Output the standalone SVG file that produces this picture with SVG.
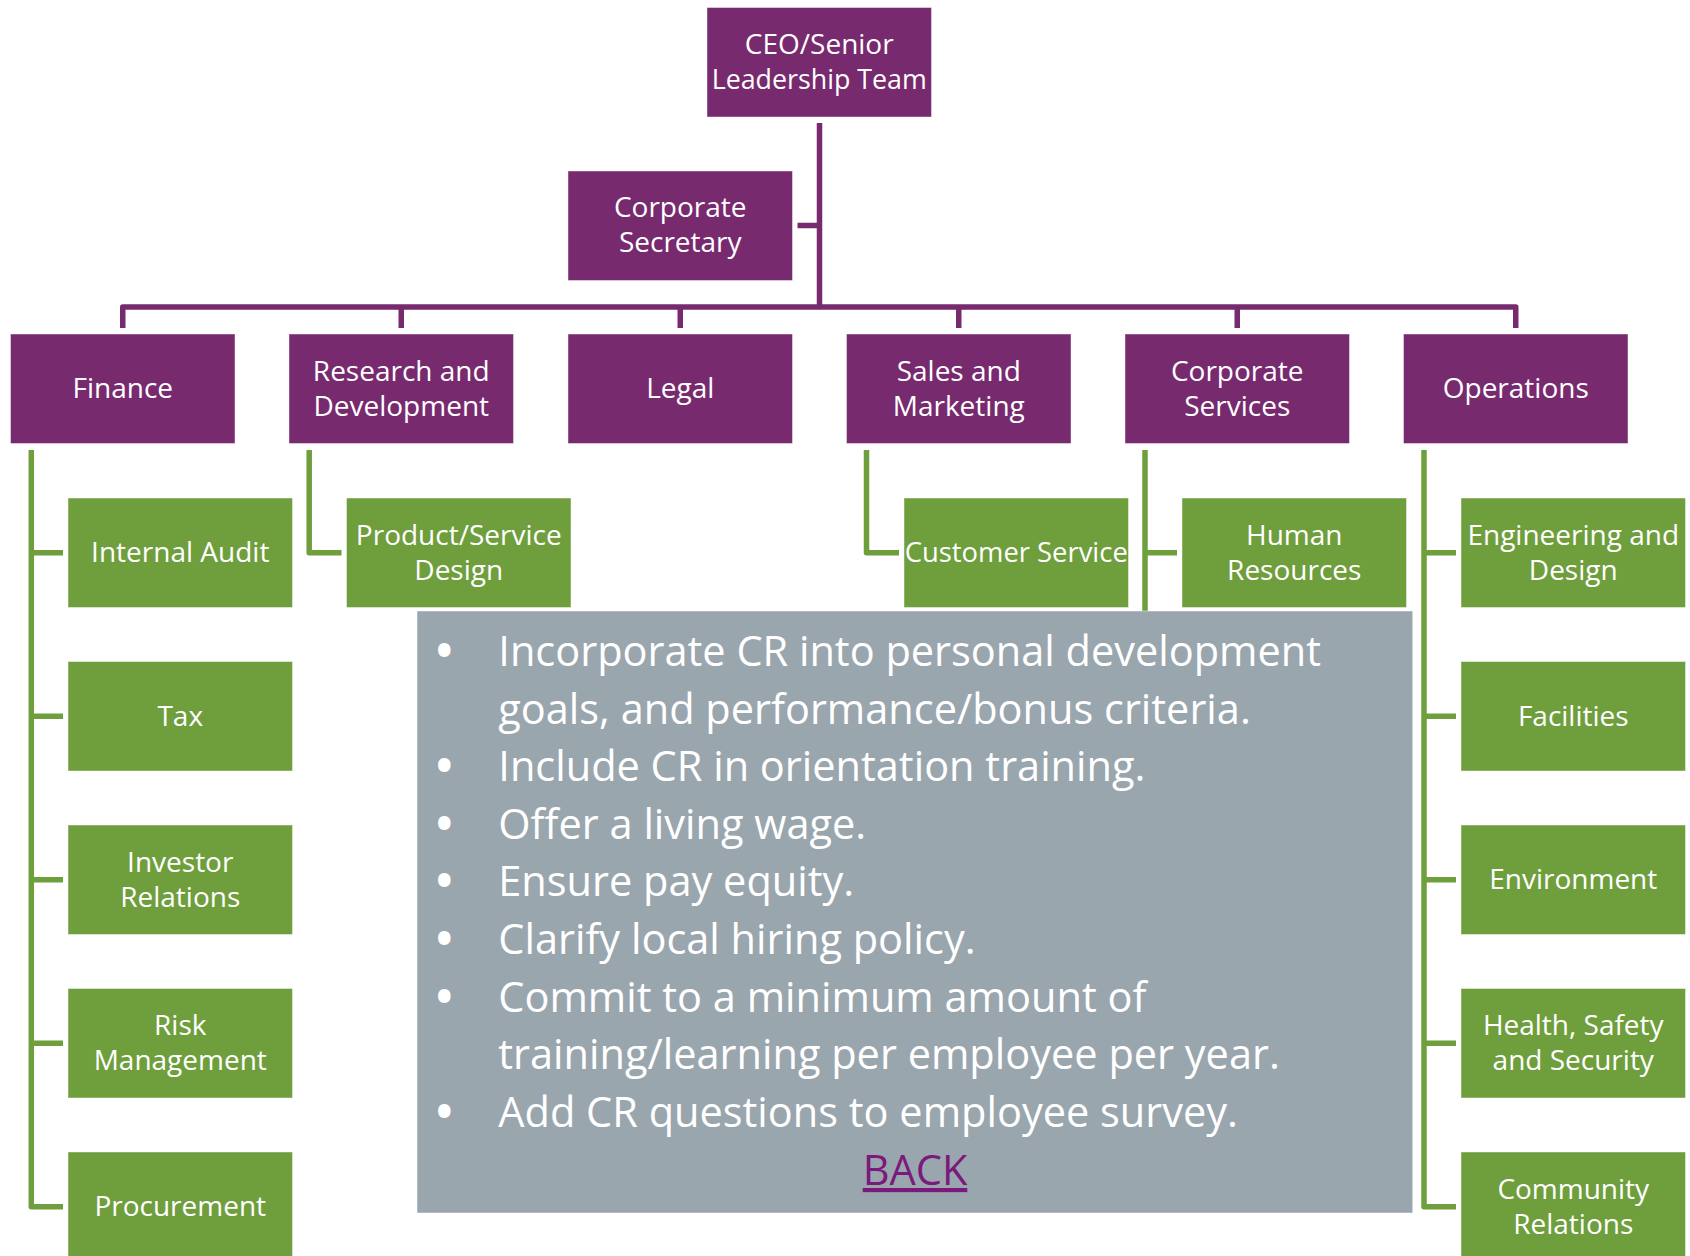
<svg xmlns="http://www.w3.org/2000/svg" width="1690" height="1256" viewBox="0 0 1690 1256">
<style>
.p{fill:#782A6F;stroke:#ffffff;stroke-opacity:0.45;stroke-width:1}
.g{fill:#6F9E3D;stroke:#ffffff;stroke-opacity:0.45;stroke-width:1}
.t{font-family:"Open Sans","Noto Sans","Liberation Sans",sans-serif;font-size:28px;fill:#ffffff;text-anchor:middle}
.cp{fill:none;stroke:#782A6F;stroke-width:5.5;stroke-linejoin:round}
.cg{fill:none;stroke:#6F9E3D;stroke-width:5.5;stroke-linejoin:round}
.b{font-family:"Open Sans","Noto Sans","Liberation Sans",sans-serif;font-size:41.5px;fill:#ffffff}
.bu{font-weight:bold;font-size:44px}
</style>
<rect width="1690" height="1256" fill="#ffffff"/>
<g id="connectors">
<path class="cp" d="M819.5 123V307"/>
<path class="cp" d="M797.5 225.5H819.5"/>
<path class="cp" d="M122.75 328V307H1515.75V328"/>
<path class="cp" d="M401.25 307V328M680.25 307V328M958.75 307V328M1237.25 307V328"/>
<path class="cg" d="M31.3 450V1206.75H63"/>
<path class="cg" d="M31.3 552.75H63M31.3 716.25H63M31.3 879.75H63M31.3 1043.25H63"/>
<path class="cg" d="M309.2 450V552.75H341.5"/>
<path class="cg" d="M866.5 450V552.75H899"/>
<path class="cg" d="M1145 450V612"/>
<path class="cg" d="M1145 552.75H1177"/>
<path class="cg" d="M1424 450V1206.75H1456"/>
<path class="cg" d="M1424 552.75H1456M1424 716.25H1456M1424 879.75H1456M1424 1043.25H1456"/>
</g>
<g id="ceo"><rect class="p" x="707" y="7.5" width="224.5" height="109.5"/><text class="t" x="819.25" y="53.75">CEO/Senior</text><text class="t" x="819.25" y="88.75" style="font-size:26.8px">Leadership Team</text></g>
<g id="corporate-secretary"><rect class="p" x="568" y="171" width="224.5" height="109.5"/><text class="t" x="680.25" y="217.25">Corporate</text><text class="t" x="680.25" y="252.25">Secretary</text></g>
<g id="finance"><rect class="p" x="10.5" y="334" width="224.5" height="109.5"/><text class="t" x="122.75" y="398">Finance</text></g>
<g id="research-development"><rect class="p" x="289" y="334" width="224.5" height="109.5"/><text class="t" x="401.25" y="380.5">Research and</text><text class="t" x="401.25" y="415.5">Development</text></g>
<g id="legal"><rect class="p" x="568" y="334" width="224.5" height="109.5"/><text class="t" x="680.25" y="398">Legal</text></g>
<g id="sales-marketing"><rect class="p" x="846.5" y="334" width="224.5" height="109.5"/><text class="t" x="958.75" y="380.5">Sales and</text><text class="t" x="958.75" y="415.5">Marketing</text></g>
<g id="corporate-services"><rect class="p" x="1125" y="334" width="224.5" height="109.5"/><text class="t" x="1237.25" y="380.5">Corporate</text><text class="t" x="1237.25" y="415.5">Services</text></g>
<g id="operations"><rect class="p" x="1403.5" y="334" width="224.5" height="109.5"/><text class="t" x="1515.75" y="398">Operations</text></g>
<g id="internal-audit"><rect class="g" x="68" y="498" width="224.5" height="109.5"/><text class="t" x="180.25" y="562">Internal Audit</text></g>
<g id="tax"><rect class="g" x="68" y="661.5" width="224.5" height="109.5"/><text class="t" x="180.25" y="725.5">Tax</text></g>
<g id="investor-relations"><rect class="g" x="68" y="825" width="224.5" height="109.5"/><text class="t" x="180.25" y="871.5">Investor</text><text class="t" x="180.25" y="906.5">Relations</text></g>
<g id="risk-management"><rect class="g" x="68" y="988.5" width="224.5" height="109.5"/><text class="t" x="180.25" y="1035">Risk</text><text class="t" x="180.25" y="1070">Management</text></g>
<g id="procurement"><rect class="g" x="68" y="1152" width="224.5" height="109.5"/><text class="t" x="180.25" y="1215.75">Procurement</text></g>
<g id="product-service-design"><rect class="g" x="346.5" y="498" width="224.5" height="109.5"/><text class="t" x="458.75" y="544.5">Product/Service</text><text class="t" x="458.75" y="579.5">Design</text></g>
<g id="customer-service"><rect class="g" x="904" y="498" width="224.5" height="109.5"/><text class="t" x="1016.25" y="562" style="font-size:27.4px">Customer Service</text></g>
<g id="human-resources"><rect class="g" x="1182" y="498" width="224.5" height="109.5"/><text class="t" x="1294.25" y="544.5">Human</text><text class="t" x="1294.25" y="579.5">Resources</text></g>
<g id="engineering-design"><rect class="g" x="1461" y="498" width="224.5" height="109.5"/><text class="t" x="1573.25" y="544.5">Engineering and</text><text class="t" x="1573.25" y="579.5">Design</text></g>
<g id="facilities"><rect class="g" x="1461" y="661.5" width="224.5" height="109.5"/><text class="t" x="1573.25" y="725.5">Facilities</text></g>
<g id="environment"><rect class="g" x="1461" y="825" width="224.5" height="109.5"/><text class="t" x="1573.25" y="889">Environment</text></g>
<g id="health-safety-security"><rect class="g" x="1461" y="988.5" width="224.5" height="109.5"/><text class="t" x="1573.25" y="1035">Health, Safety</text><text class="t" x="1573.25" y="1070">and Security</text></g>
<g id="community-relations"><rect class="g" x="1461" y="1152" width="224.5" height="109.5"/><text class="t" x="1573.25" y="1198.5">Community</text><text class="t" x="1573.25" y="1233.5">Relations</text></g>
<g id="cr-actions">
<rect x="417" y="611" width="995.7" height="602" fill="#9AA6AE" stroke="#ffffff" stroke-opacity="0.45" stroke-width="1"/>
<text class="b" y="666"><tspan class="bu" x="436">•</tspan><tspan x="498.3">Incorporate CR into personal development</tspan></text>
<text class="b" x="498.3" y="723.6">goals, and performance/bonus criteria.</text>
<text class="b" y="781.2"><tspan class="bu" x="436">•</tspan><tspan x="498.3">Include CR in orientation training.</tspan></text>
<text class="b" y="838.8"><tspan class="bu" x="436">•</tspan><tspan x="498.3">Offer a living wage.</tspan></text>
<text class="b" y="896.4"><tspan class="bu" x="436">•</tspan><tspan x="498.3">Ensure pay equity.</tspan></text>
<text class="b" y="954"><tspan class="bu" x="436">•</tspan><tspan x="498.3">Clarify local hiring policy.</tspan></text>
<text class="b" y="1011.6"><tspan class="bu" x="436">•</tspan><tspan x="498.3">Commit to a minimum amount of</tspan></text>
<text class="b" x="498.3" y="1069.2">training/learning per employee per year.</text>
<text class="b" y="1126.8"><tspan class="bu" x="436">•</tspan><tspan x="498.3">Add CR questions to employee survey.</tspan></text>
<text class="b" x="915" y="1185" text-anchor="middle" text-decoration="underline" style="fill:#7A1A7C">BACK</text>
</g>
</svg>
